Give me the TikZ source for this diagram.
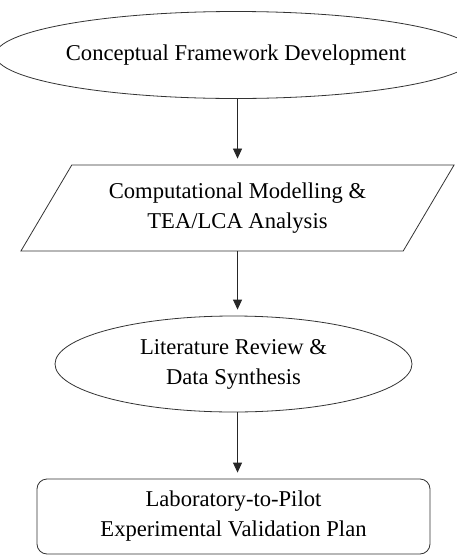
\documentclass[tikz,border=0pt]{standalone}
\usepackage{fontspec}
\setmainfont{Liberation Serif}
\usetikzlibrary{arrows.meta,positioning,shapes.geometric,calc}

\begin{document}
\begin{tikzpicture}[
  x=1pt, y=-1pt,
  font=\fontsize{22.6}{30}\selectfont,
  oval/.style={draw=black!80, ellipse, line width=0.8pt, inner sep=0pt, align=center},
  slant/.style={draw=black!80, trapezium, trapezium left angle=52, trapezium right angle=128,
                trapezium stretches=true, line width=0.8pt, inner sep=0pt, align=center},
  plan/.style={draw=black!80, rounded corners=10pt, line width=0.8pt, inner sep=0pt, align=center},
  flow/.style={draw=black!85, line width=0.8pt, -{Triangle[length=10pt,width=9pt]}, shorten >=6pt}
]
\useasboundingbox (0,0) rectangle (457,555);
\node[oval, minimum width=448pt, minimum height=87pt] (concept) at (236,55) {Conceptual Framework Development};
\node[slant, minimum width=435pt, minimum height=86pt] (model) at (237.5,208) {Computational Modelling \&\\TEA/LCA Analysis};
\node[oval, minimum width=357pt, minimum height=96pt] (review) at (233.5,364) {Literature Review \&\\Data Synthesis};
\node[plan, minimum width=393pt, minimum height=75pt] (pilot) at (233.5,516.5) {Laboratory-to-Pilot\\Experimental Validation Plan};
\draw[flow] (concept.south -| model.north) -- (model.north);
\draw[flow] (model.south) -- (model.south |- review.north);
\draw[flow] (model.south |- review.south) -- (model.south |- pilot.north);
\end{tikzpicture}
\end{document}
